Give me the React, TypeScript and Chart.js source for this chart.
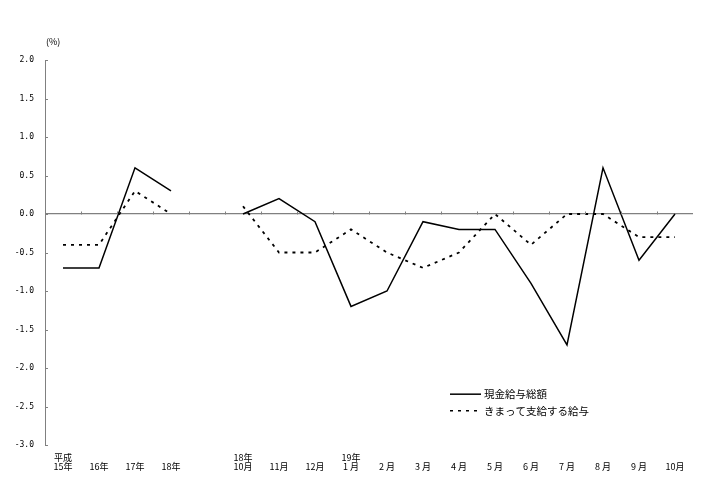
import React, { useEffect, useRef } from "react";
import { Chart, registerables } from "chart.js";

Chart.register(...registerables);

const categoryTop = ["平成", "", "", "", "", "18年", "", "", "19年", "", "", "", "", "", "", "", "", ""];
const categoryBottom = ["15年", "16年", "17年", "18年", "", "10月", "11月", "12月", "1 月", "2 月", "3 月", "4 月", "5 月", "6 月", "7 月", "8 月", "9 月", "10月"];
const totalPay = [-0.7, -0.7, 0.6, 0.3, null, 0.0, 0.2, -0.1, -1.2, -1.0, -0.1, -0.2, -0.2, -0.9, -1.7, 0.6, -0.6, 0.0];
const regularPay = [-0.4, -0.4, 0.3, 0.0, null, 0.1, -0.5, -0.5, -0.2, -0.5, -0.7, -0.5, 0.0, -0.4, 0.0, 0.0, -0.3, -0.3];
const seriesNames = ["現金給与総額", "きまって支給する給与"];
const yUnit = "(%)";
const yMin = -3.0;
const yMax = 2.0;
const yStep = 0.5;

const FONT = "'Noto Sans CJK JP', 'DejaVu Sans', sans-serif";

export default function App() {
  const ref = useRef<HTMLCanvasElement | null>(null);
  useEffect(() => {
    if (!ref.current) return;
    const decor = {
      id: "decor",
      afterDraw(chart: any) {
        const ctx = chart.ctx;
        const y = chart.scales.y;
        const x = chart.scales.x;
        const area = chart.chartArea;
        ctx.save();
        ctx.strokeStyle = "#808080";
        ctx.lineWidth = 1;
        y.ticks.forEach((t: any) => {
          const py = Math.round(y.getPixelForValue(t.value)) + 0.5;
          ctx.beginPath();
          ctx.moveTo(area.left, py);
          ctx.lineTo(area.left + 3, py);
          ctx.stroke();
        });
        const zy = Math.round(y.getPixelForValue(0)) + 0.5;
        for (let i = 1; i < categoryBottom.length; i++) {
          const px = Math.round((x.getPixelForValue(i - 1) + x.getPixelForValue(i)) / 2) + 0.5;
          ctx.beginPath();
          ctx.moveTo(px, zy);
          ctx.lineTo(px, zy - 3);
          ctx.stroke();
        }
        ctx.fillStyle = "#000";
        ctx.font = "9px " + FONT;
        ctx.textAlign = "left";
        ctx.textBaseline = "middle";
        ctx.fillText(yUnit, area.left + 1, y.getPixelForValue(yMax) - 18);
        // category labels
        ctx.textAlign = "center";
        ctx.textBaseline = "top";
        for (let i = 0; i < categoryBottom.length; i++) {
          const px = x.getPixelForValue(i);
          if (categoryTop[i]) ctx.fillText(categoryTop[i], px, area.bottom + 8);
          if (categoryBottom[i]) ctx.fillText(categoryBottom[i], px, area.bottom + 17);
        }
        ctx.restore();
      },
    };
    const legend = {
      id: "customLegend",
      afterDraw(chart: any) {
        const ctx = chart.ctx;
        const area = chart.chartArea;
        const w = area.right - area.left;
        const h = area.bottom - area.top;
        const x0 = area.left + w * 0.625;
        const rows = [area.top + h * 0.868, area.top + h * 0.911];
        ctx.save();
        ctx.strokeStyle = "#000";
        ctx.fillStyle = "#000";
        ctx.font = "10.5px " + FONT;
        ctx.textBaseline = "middle";
        ctx.textAlign = "left";
        rows.forEach((ry, i) => {
          ctx.lineWidth = 1.5;
          ctx.setLineDash(i === 0 ? [] : [3, 5]);
          ctx.beginPath();
          ctx.moveTo(x0, ry);
          ctx.lineTo(x0 + 31, ry);
          ctx.stroke();
          ctx.setLineDash([]);
          ctx.fillText(seriesNames[i], x0 + 34, ry);
        });
        ctx.restore();
      },
    };
    const chart = new Chart(ref.current, {
      type: "line",
      data: {
        labels: categoryBottom.map((b, i) => [categoryTop[i], b]),
        datasets: [
          {
            label: seriesNames[0],
            data: totalPay,
            borderColor: "#000",
            borderWidth: 1.5,
            pointRadius: 0,
            tension: 0,
            spanGaps: false,
          },
          {
            label: seriesNames[1],
            data: regularPay,
            borderColor: "#000",
            borderWidth: 1.8,
            borderDash: [3, 5],
            pointRadius: 0,
            tension: 0,
            spanGaps: false,
          },
        ],
      },
      options: {
        animation: false,
        responsive: false,
        maintainAspectRatio: false,
        layout: { padding: { left: 0, right: 23, top: 60, bottom: 0 } },
        plugins: { legend: { display: false }, tooltip: { enabled: false } },
        scales: {
          x: {
            type: "category",
            offset: true,
            grid: { display: false, drawTicks: false },
            border: { display: false },
            ticks: { display: false },
            afterFit(scale: any) {
              scale.height = 43;
            },
          },
          y: {
            min: yMin,
            max: yMax,
            grid: {
              drawTicks: false,
              color: (c: any) => (c.tick && c.tick.value === 0 ? "#808080" : "rgba(0,0,0,0)"),
              lineWidth: 1.2,
            },
            border: { display: true, color: "#808080", width: 1 },
            ticks: {
              stepSize: yStep,
              color: "#000",
              font: { family: "'DejaVu Sans Mono', monospace", size: 8 },
              padding: 11,
              callback: (v: any) => Number(v).toFixed(1),
            },
            afterFit(scale: any) {
              scale.width = 45;
            },
          },
        },
      },
      plugins: [decor, legend],
    } as any);
    return () => chart.destroy();
  }, []);
  return (
    <div style={{ position: "fixed", left: 0, top: 0, width: 716, height: 488, background: "#fff" }}>
      <canvas ref={ref} width={716} height={488} style={{ width: 716, height: 488 }} />
    </div>
  );
}
